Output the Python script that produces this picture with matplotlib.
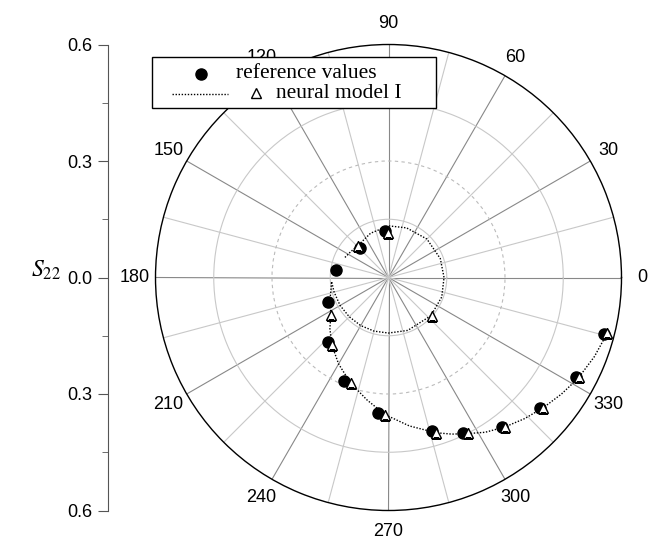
import numpy as np
import matplotlib.pyplot as plt
from matplotlib.patches import Rectangle
from matplotlib.lines import Line2D

plt.rcParams['font.family'] = ['Liberation Sans', 'DejaVu Sans']
plt.rcParams['mathtext.fontset'] = 'stix'

# reference values (angle in degrees, magnitude)
ref_theta = [345.3, 332.1, 319.3, 307.3, 295.7, 285.7, 265.7, 246.7, 226.8, 201.9, 171.9, 133.7, 94.4]
ref_r = [0.574, 0.546, 0.514, 0.483, 0.444, 0.411, 0.351, 0.289, 0.229, 0.167, 0.137, 0.106, 0.119]

# neural model I, sampled points (triangles)
nn_theta = [345.7, 332.3, 319.7, 307.8, 297.1, 287.0, 268.5, 250.2, 230.1, 213.0, 134.1, 91.0, 318.3]
nn_r = [0.581, 0.553, 0.521, 0.488, 0.451, 0.418, 0.353, 0.288, 0.227, 0.177, 0.114, 0.114, 0.149]

# neural model I, continuous response (dotted line), angle unwrapped
curve_theta = [346, 339, 332, 326, 320, 314, 308, 302, 297, 292, 287, 278, 268.5, 260, 250, 240,
               230, 221, 213, 200, 190, 184, 195, 210, 225, 240, 255, 270, 290, 318, 340, 360,
               380, 405, 430, 450, 472, 494, 506, 517]
curve_r = [0.582, 0.568, 0.553, 0.537, 0.521, 0.505, 0.488, 0.470, 0.451, 0.435, 0.418, 0.386, 0.353,
           0.320, 0.288, 0.257, 0.227, 0.200, 0.177, 0.160, 0.150, 0.147, 0.145, 0.144, 0.143, 0.143,
           0.143, 0.143, 0.145, 0.147, 0.146, 0.143, 0.142, 0.140, 0.136, 0.133, 0.123, 0.114, 0.118,
           0.125]

theta_labels = [str(a) for a in range(0, 360, 30)]
r_ticks = [-0.6, -0.3, 0.0, 0.3, 0.6]
r_tick_labels = ['0.6', '0.3', '0.0', '0.3', '0.6']

W, H = 650, 541
fig = plt.figure(figsize=(6.5, 5.41), dpi=100)

cx, cy, rad = 388.5, 277.5, 233
bottom = (H - cy - rad) / H
height = 2 * rad / H
ax = fig.add_axes([(cx - rad) / W, bottom, 2 * rad / W, height], projection='polar')
ax.set_ylim(0, 0.6)
ax.set_xticks(np.radians(np.arange(0, 360, 30)))
ax.set_xticks(np.radians(np.arange(15, 360, 30)), minor=True)
ax.set_xticklabels(theta_labels, fontsize=13)
ax.set_yticks([0.3])
ax.set_yticks([0.15, 0.45], minor=True)
ax.set_yticklabels([])
ax.tick_params(axis='y', which='both', length=0)
ax.tick_params(axis='x', which='both', direction='in', length=5, width=1, color='black', pad=8)
ax.xaxis.grid(True, which='major', color='#888888', lw=0.8, ls='-')
ax.xaxis.grid(True, which='minor', color='#c8c8c8', lw=0.8, ls='-')
ax.yaxis.grid(True, which='major', color='#bbbbbb', lw=0.8, ls=(0, (3, 3)))
ax.yaxis.grid(True, which='minor', color='#c8c8c8', lw=0.8, ls='-')
ax.spines['polar'].set_color('black')
ax.spines['polar'].set_linewidth(1.0)

ax.plot(np.radians(curve_theta), curve_r, color='black', lw=1.0, ls=(0, (1, 1.2)), zorder=3)
ax.plot(np.radians(ref_theta), ref_r, 'o', color='black', ms=8, zorder=4)
ax.plot(np.radians(nn_theta), nn_r, '^', mfc='white', mec='black', mew=1.0, ms=7.5, zorder=5)

# left magnitude axis
ax2 = fig.add_axes([108 / W, bottom, 0.001, height])
ax2.set_ylim(-0.6, 0.6)
ax2.set_yticks(r_ticks)
ax2.set_yticklabels(r_tick_labels, fontsize=13)
ax2.set_yticks([-0.45, -0.15, 0.15, 0.45], minor=True)
ax2.set_xticks([])
for s in ['top', 'right', 'bottom']:
    ax2.spines[s].set_visible(False)
ax2.spines['left'].set_color('#555555')
ax2.tick_params(axis='y', which='major', length=7, color='#555555', pad=4)
ax2.tick_params(axis='y', which='minor', length=4, color='#555555')
ax2.patch.set_visible(False)

fig.text(46 / W, 1 - 270 / H, '$S_{22}$', fontsize=17, ha='center', va='center')

# legend box drawn in pixel space
lg = fig.add_axes([0, 0, 1, 1], zorder=10)
lg.set_xlim(0, W)
lg.set_ylim(H, 0)
lg.axis('off')
lg.add_patch(Rectangle((152, 57), 284, 51, facecolor='white', edgecolor='black', lw=1.0))
lg.add_line(Line2D([201], [74], marker='o', color='black', ms=8, ls='none'))
lg.add_line(Line2D([172, 228], [94, 94], color='black', lw=1.0, ls=(0, (1, 1.2))))
lg.add_line(Line2D([256], [93], marker='^', mfc='white', mec='black', mew=1.0, ms=7.5, ls='none'))
lg.text(236, 74, 'reference values', fontsize=15.5, family='Liberation Serif', va='center')
lg.text(276, 94, 'neural model I', fontsize=15.5, family='Liberation Serif', va='center')

fig.savefig('out.png', dpi=100)
